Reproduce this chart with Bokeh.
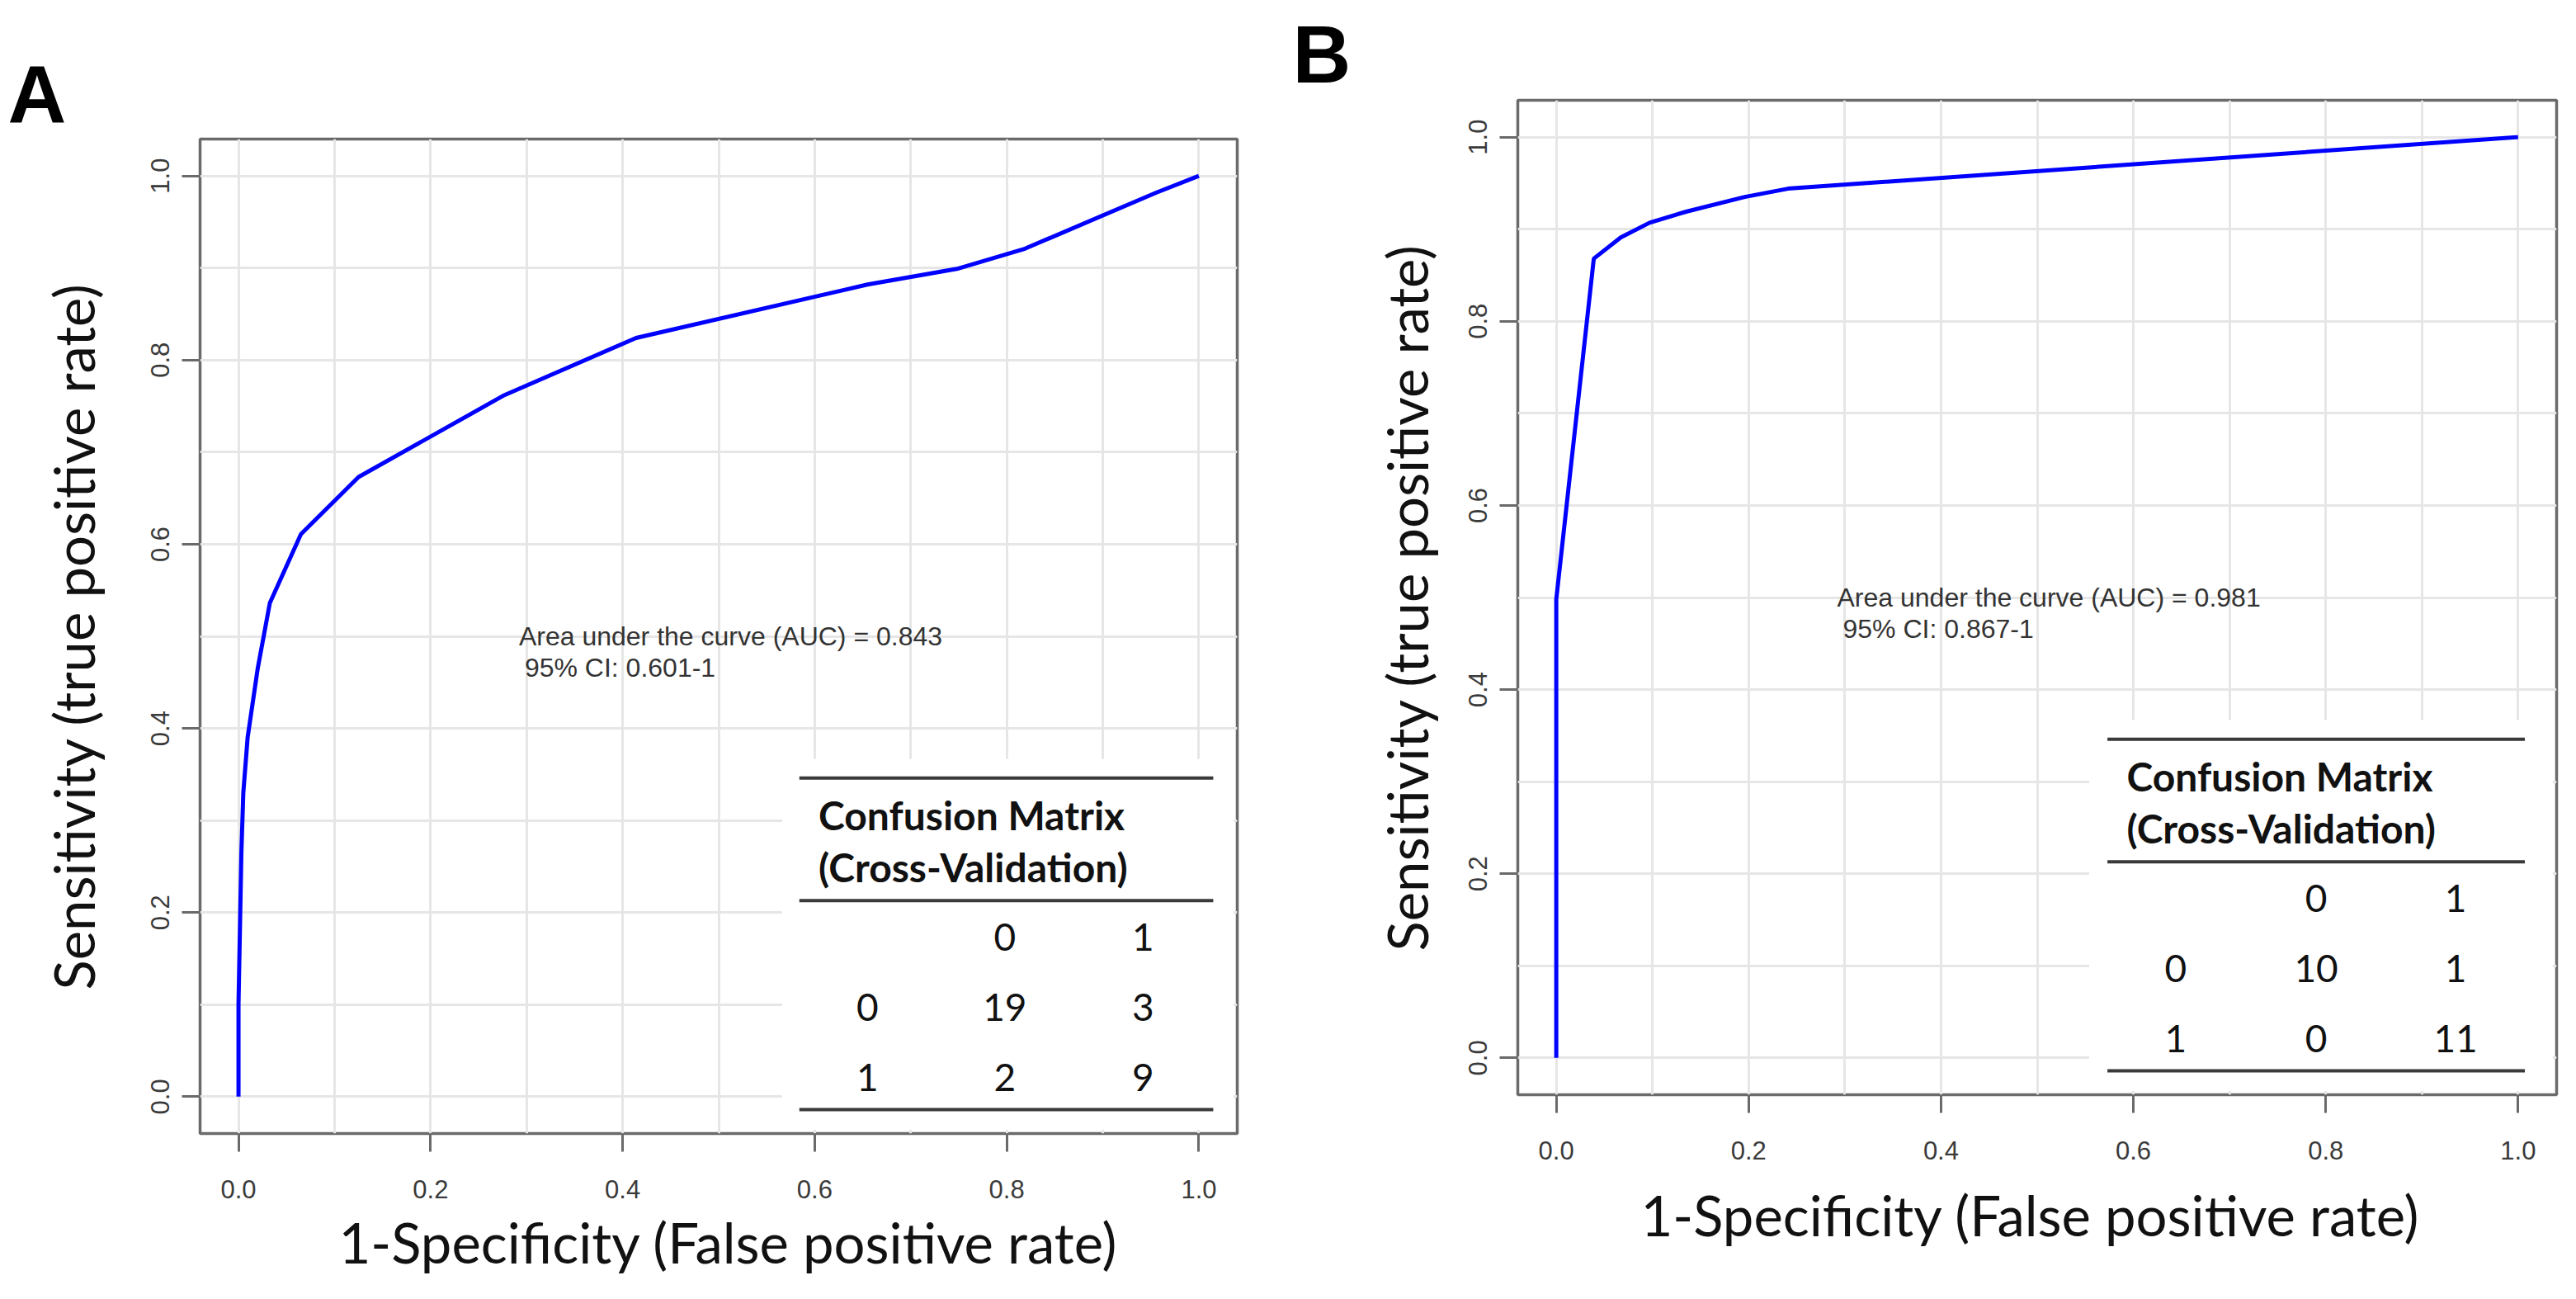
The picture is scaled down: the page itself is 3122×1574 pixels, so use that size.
from bokeh.plotting import figure
from bokeh.layouts import row, column
from bokeh.models import Range1d, FixedTicker, NumeralTickFormatter, Spacer, Title
from bokeh.embed import file_html
from bokeh.resources import INLINE
from bokeh.core.properties import value

# ---------------- data ----------------
fpr_a = [0.0, 0.0, 0.003, 0.005, 0.0095, 0.020, 0.0326, 0.065, 0.125, 0.277, 0.414, 0.655, 0.748, 0.819, 0.956, 1.0]
tpr_a = [0.0, 0.10, 0.265, 0.330, 0.390, 0.465, 0.536, 0.611, 0.673, 0.762, 0.824, 0.882, 0.899, 0.921, 0.982, 1.0]

fpr_b = [0.0, 0.0, 0.039, 0.067, 0.097, 0.135, 0.196, 0.241, 1.0]
tpr_b = [0.0, 0.498, 0.868, 0.891, 0.907, 0.919, 0.935, 0.944, 1.0]

auc_text_a = "Area under the curve (AUC) = 0.843"
ci_text_a = "95% CI: 0.601-1"
auc_text_b = "Area under the curve (AUC) = 0.981"
ci_text_b = "95% CI: 0.867-1"

cm_title = ["Confusion Matrix", "(Cross-Validation)"]
cm_classes = ["0", "1"]
cm_a = [["19", "3"], ["2", "9"]]
cm_b = [["10", "1"], ["0", "11"]]

axis_ticks = [0.0, 0.2, 0.4, 0.6, 0.8, 1.0]
grid_ticks = [0.0, 0.1, 0.2, 0.3, 0.4, 0.5, 0.6, 0.7, 0.8, 0.9, 1.0]
x_title = "1-Specificity  (False positive rate)"
y_title = "Sensitivity (true positive rate)"
panel_letters = ["A", "B"]

FRAME_GRAY = "#6a6a6a"
GRID_GRAY = "#e6e6e6"
TICK_FONT = "Liberation Sans"
TITLE_FONT = "Lato"
FIG_W = 1553
TAB_UP = 0.0143   # text baseline correction (data units)
AUC_UP = 0.0072


def make_panel(fpr, tpr, auc_txt, ci_txt, cm, letter, lay):
    p = figure(width=FIG_W, height=lay["h"],
               x_range=Range1d(-0.04, 1.04), y_range=Range1d(-0.04, 1.04),
               output_backend="svg", toolbar_location=None,
               min_border_left=lay["mbl"], min_border_right=lay["mbr"],
               min_border_top=117, min_border_bottom=lay["mbb"],
               background_fill_color="white", border_fill_color="white")
    p.outline_line_color = FRAME_GRAY
    p.outline_line_width = 3.5
    p.outline_line_alpha = 1.0

    # panel letter as title
    p.title.text = letter
    p.title.text_font = TICK_FONT
    p.title.text_font_style = "bold"
    p.title.text_font_size = "98px"
    p.title.text_color = "#000000"
    p.title.align = "left"
    p.title.offset = lay["toff"]
    p.title.standoff = lay["tstand"]

    # grid
    p.xgrid.ticker = FixedTicker(ticks=grid_ticks)
    p.ygrid.ticker = FixedTicker(ticks=grid_ticks)
    p.grid.grid_line_color = GRID_GRAY
    p.grid.grid_line_width = 3

    # axes
    for ax in (p.xaxis[0], p.yaxis[0]):
        ax.ticker = FixedTicker(ticks=axis_ticks)
        ax.formatter = NumeralTickFormatter(format="0.0")
        ax.axis_line_color = None
        ax.major_tick_line_color = FRAME_GRAY
        ax.major_tick_line_width = 3
        ax.major_tick_in = 0
        ax.major_tick_out = 22
        ax.minor_tick_line_color = None
        ax.major_label_text_font = TICK_FONT
        ax.major_label_text_font_size = "31px"
        ax.major_label_text_color = "#3a3a3a"
        ax.axis_label_text_font = TITLE_FONT
        ax.axis_label_text_font_style = "normal"
        ax.axis_label_text_font_size = "67px"
        ax.axis_label_text_color = "#111111"
    p.yaxis.axis_label = y_title
    p.xaxis.major_label_standoff = 34
    p.yaxis.major_label_standoff = 15
    p.yaxis.major_label_orientation = "vertical"
    p.yaxis.axis_label_standoff = lay["yls"]

    # x-axis title (as a title below the axis, so it can be offset horizontally)
    p.add_layout(Title(text=x_title, align="left", offset=lay["xoff"], standoff=lay["xstand"],
                       text_font=TITLE_FONT, text_font_style="normal", text_font_size="67px",
                       text_color="#111111"), "below")

    # ROC curve
    p.line(fpr, tpr, line_color="#0000ff", line_width=5)

    # AUC annotation
    p.text(x=[0.292], y=[0.493 + AUC_UP], text=[auc_txt], text_font=value(TICK_FONT),
           text_font_size="32px", text_color="#333333", text_baseline="alphabetic", text_align="left")
    p.text(x=[0.298], y=[0.459 + AUC_UP], text=[ci_txt], text_font=value(TICK_FONT),
           text_font_size="32px", text_color="#333333", text_baseline="alphabetic", text_align="left")

    # confusion-matrix table on a white box
    t = lay["tab"]
    p.quad(left=[t["box_l"]], right=[1.036], bottom=[-0.036], top=[0.367],
           fill_color="white", line_color=None)
    ys = [0.346, 0.213, -0.014]
    p.segment(x0=[t["l0"]] * 3, x1=[t["l1"]] * 3, y0=ys, y1=ys,
              line_color="#3a3a3a", line_width=4)
    p.text(x=[t["tx"], t["tx"]], y=[0.292 + TAB_UP, 0.235 + TAB_UP], text=cm_title,
           text_font=value(TITLE_FONT), text_font_style="bold", text_font_size="48px",
           text_color="#111111", text_baseline="alphabetic", text_align="left")
    c0, c1, c2 = t["cols"]
    cell_x = [c1, c2, c0, c1, c2, c0, c1, c2]
    cell_y = [v + TAB_UP for v in [0.159, 0.159, 0.083, 0.083, 0.083, 0.007, 0.007, 0.007]]
    cell_t = [cm_classes[0], cm_classes[1],
              cm_classes[0], cm[0][0], cm[0][1],
              cm_classes[1], cm[1][0], cm[1][1]]
    p.text(x=cell_x, y=cell_y, text=cell_t,
           text_font=value(TITLE_FONT), text_font_size="46px",
           text_color="#111111", text_baseline="alphabetic", text_align="center")
    return p


lay_a = dict(h=1507, mbb=185, mbl=242, mbr=54, yls=52, toff=-233, tstand=0, xoff=168, xstand=16,
             tab=dict(box_l=0.566, l0=0.584, l1=1.015, tx=0.604, cols=[0.655, 0.798, 0.942]))
lay_b = dict(h=1554, mbb=232, mbl=286, mbr=8, yls=33, toff=-273, tstand=2, xoff=149, xstand=44,
             tab=dict(box_l=0.554, l0=0.573, l1=1.007, tx=0.593, cols=[0.644, 0.790, 0.935]))

pa = make_panel(fpr_a, tpr_a, auc_text_a, ci_text_a, cm_a, panel_letters[0], lay_a)
pb = make_panel(fpr_b, tpr_b, auc_text_b, ci_text_b, cm_b, panel_letters[1], lay_b)

layout = row(column(Spacer(width=FIG_W, height=51), pa),
             column(Spacer(width=FIG_W, height=4), pb))
open("out.html", "w").write(file_html(layout, INLINE))
